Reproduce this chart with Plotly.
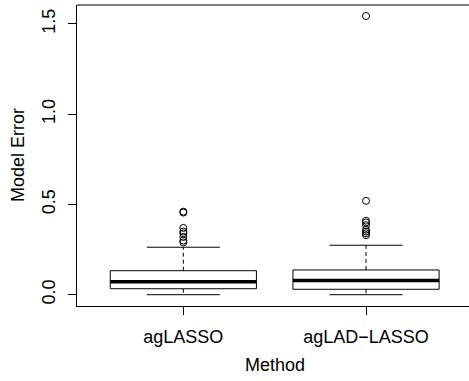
import plotly.graph_objects as go

# ---- data ----
methods = ["agLASSO", "agLAD\u2212LASSO"]
lower_whisker = [0.0, 0.0]
q1 = [0.033, 0.030]
median = [0.072, 0.078]
q3 = [0.133, 0.137]
upper_whisker = [0.263, 0.274]
outliers_aglasso = [0.46, 0.455, 0.37, 0.35, 0.34, 0.32, 0.30, 0.29]
outliers_agladlasso = [1.544, 0.52, 0.41, 0.40, 0.385, 0.36, 0.35, 0.34, 0.33]
outliers = [outliers_aglasso, outliers_agladlasso]
y_ticks = [0.0, 0.5, 1.0, 1.5]
y_tick_text = ["0.0", "0.5", "1.0", "1.5"]

FONT = "Liberation Sans, Arial, Helvetica, sans-serif"
half_box = 0.4
half_cap = 0.2

box_x, box_y = [], []
med_x, med_y = [], []
wh_x, wh_y = [], []
cap_x, cap_y = [], []
out_x, out_y = [], []
for i, name in enumerate(methods):
    c = i + 1
    box_x += [c - half_box, c + half_box, c + half_box, c - half_box, c - half_box, None]
    box_y += [q1[i], q1[i], q3[i], q3[i], q1[i], None]
    med_x += [c - half_box, c + half_box, None]
    med_y += [median[i], median[i], None]
    wh_x += [c, c, None, c, c, None]
    wh_y += [q3[i], upper_whisker[i], None, q1[i], lower_whisker[i], None]
    cap_x += [c - half_cap, c + half_cap, None, c - half_cap, c + half_cap, None]
    cap_y += [upper_whisker[i], upper_whisker[i], None, lower_whisker[i], lower_whisker[i], None]
    out_x += [c] * len(outliers[i])
    out_y += outliers[i]

fig = go.Figure()
fig.add_trace(go.Scatter(x=wh_x, y=wh_y, mode="lines",
                         line=dict(color="black", width=1, dash="4px,3px"),
                         hoverinfo="skip", showlegend=False))
fig.add_trace(go.Scatter(x=cap_x, y=cap_y, mode="lines",
                         line=dict(color="black", width=1),
                         hoverinfo="skip", showlegend=False))
fig.add_trace(go.Scatter(x=box_x, y=box_y, mode="lines", fill="toself",
                         fillcolor="white",
                         line=dict(color="black", width=1),
                         hoverinfo="skip", showlegend=False))
fig.add_trace(go.Scatter(x=med_x, y=med_y, mode="lines",
                         line=dict(color="black", width=3.5),
                         hoverinfo="skip", showlegend=False))
fig.add_trace(go.Scatter(x=out_x, y=out_y, mode="markers",
                         marker=dict(symbol="circle-open", size=7,
                                     color="black", line=dict(width=1)),
                         showlegend=False))

L, T, B = 77, 5, 75
W, H = 469, 381
plot_w = W - L
px_per_unit = 182.7
x_lo = 0.418
x_hi = x_lo + plot_w / px_per_unit

fig.update_layout(
    template="none",
    width=W, height=H,
    margin=dict(l=L, r=0, t=T, b=B, pad=0, autoexpand=False),
    paper_bgcolor="white", plot_bgcolor="white",
    font=dict(family=FONT, size=18, color="black"),
    xaxis=dict(range=[x_lo, x_hi], tickmode="array", automargin=False,
               tickvals=[1, 2], ticktext=methods,
               showgrid=False, zeroline=False,
               showline=True, linecolor="black", linewidth=1,
               ticks="outside", ticklen=8, tickcolor="black", tickwidth=1,
               ticklabelstandoff=6,
               tickfont=dict(size=18)),
    yaxis=dict(range=[-0.0626, 1.605], tickmode="array", automargin=False,
               tickvals=y_ticks, ticktext=y_tick_text,
               showgrid=False, zeroline=False,
               showline=True, linecolor="black", linewidth=1,
               ticks="outside", ticklen=8, tickcolor="black", tickwidth=1,
               tickangle=-90, ticklabelstandoff=6,
               tickfont=dict(size=18)),
    shapes=[dict(type="line", xref="paper", yref="paper",
                 x0=0, x1=1, y0=1, y1=1,
                 line=dict(color="black", width=1))],
    annotations=[
        dict(text="Method", xref="paper", yref="paper",
             x=(274.5 - L) / plot_w, y=(H - B - 365) / (H - B - T),
             xanchor="center", yanchor="middle", showarrow=False,
             font=dict(size=18)),
        dict(text="Model Error", xref="paper", yref="paper",
             x=(17.5 - L) / plot_w, y=0.5, textangle=-90,
             xanchor="center", yanchor="middle", showarrow=False,
             font=dict(size=18)),
    ],
)

fig.write_html(
    "out.html",
    config={"displayModeBar": False},
    post_script="document.body.style.margin='0px';document.body.style.overflow='hidden';",
)
